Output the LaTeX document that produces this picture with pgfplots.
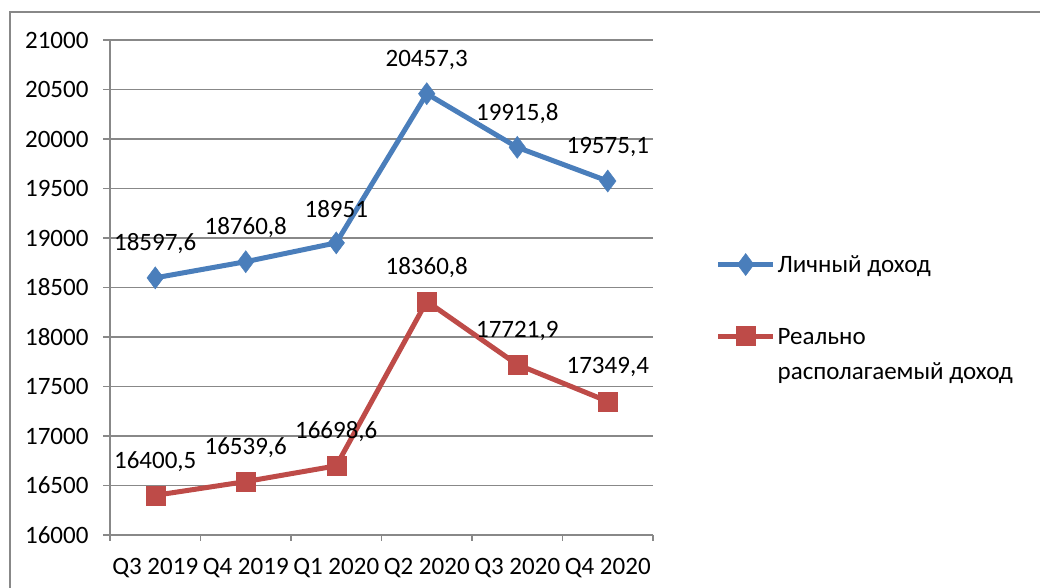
\documentclass[border=0pt]{standalone}
\usepackage{pgfplots}
\pgfplotsset{compat=1.18}
\usepackage{fontspec}
\setmainfont{Carlito}
\definecolor{sblue}{HTML}{4A7EBB}
\definecolor{sred}{HTML}{BE4B48}
\definecolor{gridgray}{HTML}{888888}
\pgfplotstableread{
x y lab
0 18597.6 18597,6
1 18760.8 18760,8
2 18951 18951
3 20457.3 20457,3
4 19915.8 19915,8
5 19575.1 19575,1
}\personal
\pgfplotstableread{
x y lab
0 16400.5 16400,5
1 16539.6 16539,6
2 16698.6 16698,6
3 18360.8 18360,8
4 17721.9 17721,9
5 17349.4 17349,4
}\real
\newcommand{\cf}{\fontsize{25}{30}\selectfont}
\begin{document}
\begin{tikzpicture}[x=1pt,y=1pt]
\useasboundingbox (0,0) rectangle (1040,588);
\draw[gridgray, line width=1.5pt] (10,-10) -- (10,576) -- (1050,576);
\begin{axis}[at={(110pt,53pt)}, anchor=south west, scale only axis,
  width=543pt, height=495pt,
  xmin=-0.5, xmax=5.5, ymin=16000, ymax=21000,
  ytick={16000,16500,...,21000},
  scaled y ticks=false,
  xtick={0,...,5},
  xticklabels={Q3 2019,Q4 2019,Q1 2020,Q2 2020,Q3 2020,Q4 2020},
  major x tick style={draw=none},
  minor xtick={-0.5,0.5,...,5.5},
  axis x line=bottom, axis y line=left,
  axis line style={gridgray, line width=1.5pt, -},
  ymajorgrids, grid style={gridgray, line width=1.5pt},
  tick align=outside, major tick length=7pt, minor tick length=6pt,
  tick style={gridgray, line width=1.5pt},
  ticklabel style={font=\cf, text=black},
  yticklabel style={/pgf/number format/fixed, /pgf/number format/1000 sep={}, /pgf/number format/assume math mode=true, xshift=-11pt},
  xticklabel style={yshift=-13pt},
  clip=false,
  nodes near coords, point meta=explicit symbolic,
  every node near coord/.append style={anchor=center, yshift=34pt, font=\cf, text=black},
  legend style={at={(1.115,0.569)}, anchor=north west, draw=none, fill=none,
    font=\cf, row sep=50pt, inner sep=0pt, nodes={inner sep=2pt}, cells={anchor=base west}},
  legend image code/.code={\draw[#1, mark repeat=2, mark phase=2] plot coordinates {(0pt,8pt) (27.5pt,8pt) (55pt,8pt)};},
]
\addplot[sblue, line width=5pt, mark=diamond*, mark size=11pt, mark options={solid, line width=0.5pt}]
  table[x=x, y=y, meta=lab] {\personal};
\addlegendentry{Личный доход}
\addplot[sred, line width=5pt, mark=square*, mark size=9.5pt, mark options={solid, line width=0.5pt}]
  table[x=x, y=y, meta=lab] {\real};
\addlegendentry{\vtop{\baselineskip=35pt\hbox{Реально}\hbox{располагаемый доход}}}
\end{axis}
\end{tikzpicture}
\end{document}
